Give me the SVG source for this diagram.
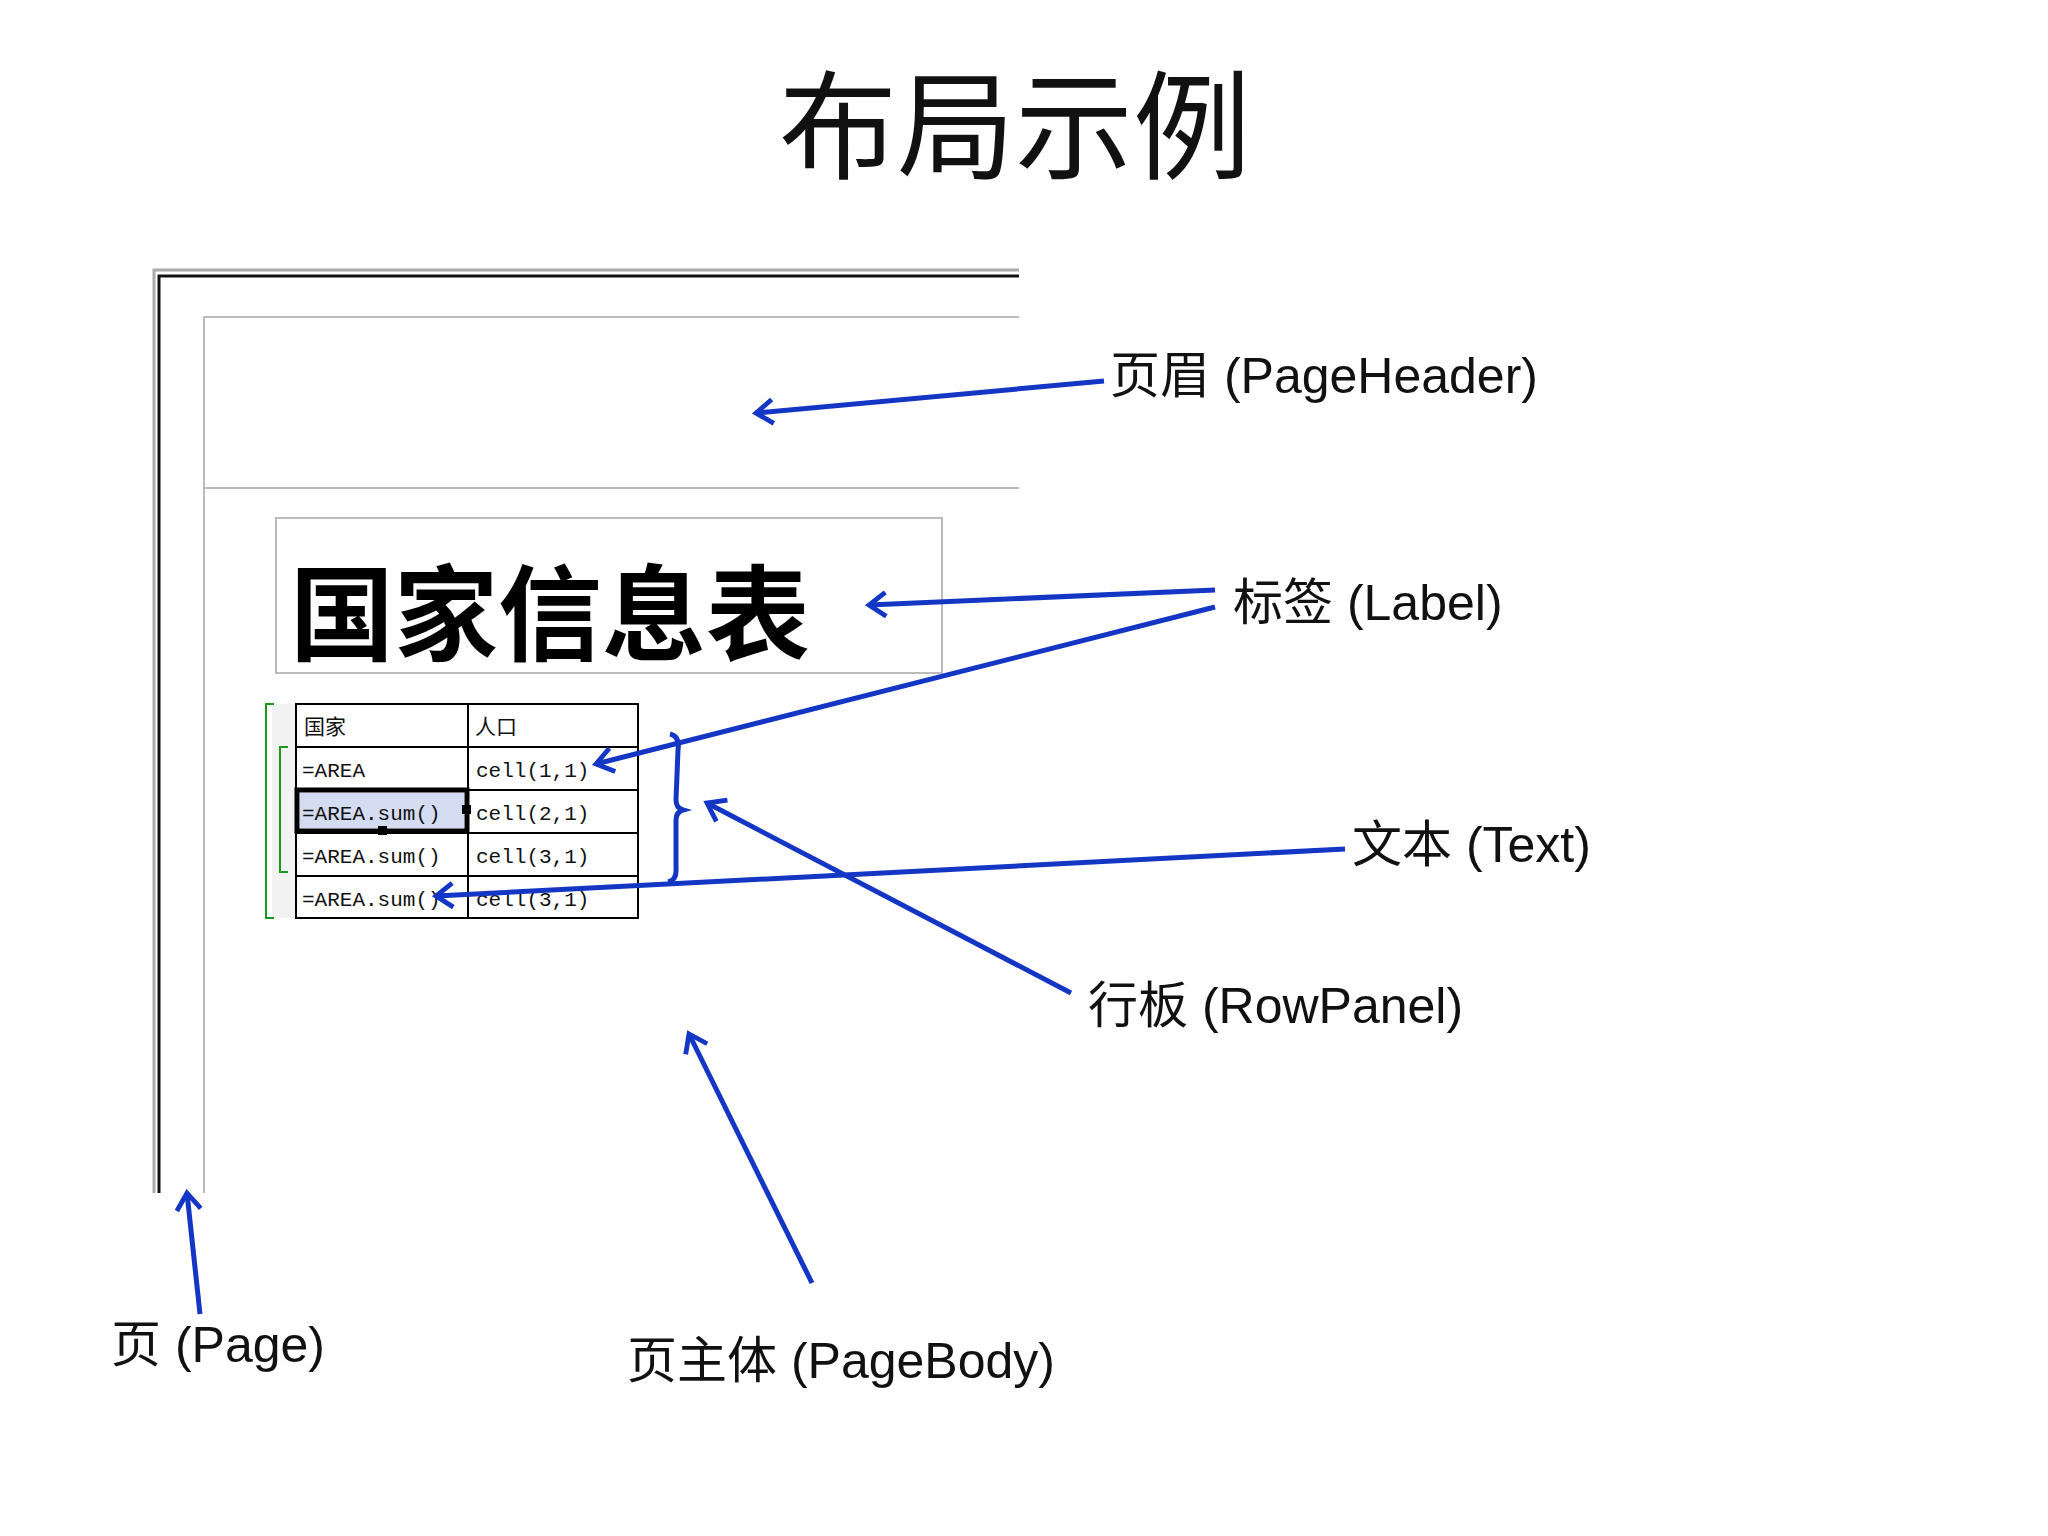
<svg xmlns="http://www.w3.org/2000/svg" width="2048" height="1536" viewBox="0 0 2048 1536">
<style>
.lbl{font-family:"Liberation Sans","Noto Sans CJK SC",sans-serif;font-size:50px;fill:#111}
.cell{font-family:"Liberation Mono","Noto Sans CJK SC",monospace;font-size:21px;fill:#111}
.arr{stroke:#1436c4;stroke-width:5;fill:none}
.tl{stroke:#000;stroke-width:2;fill:none}
</style>
<defs>
<marker id="ah" viewBox="0 0 20 20" refX="18" refY="10" markerWidth="24" markerHeight="24" orient="auto" markerUnits="userSpaceOnUse" style="overflow:visible">
<path d="M4,0 L18,10 L4,20" stroke="#1436c4" stroke-width="4" fill="none"/>
</marker>
</defs>
<rect width="2048" height="1536" fill="#fff"/>
<text x="1015" y="170" text-anchor="middle" font-family="Noto Sans CJK SC,sans-serif" font-size="118" fill="#111">布局示例</text>
<g id="page">
<path d="M154,1193 V270 H1019" stroke="#aaa" stroke-width="3" fill="none"/>
<path d="M159,1193 V276 H1019" stroke="#111" stroke-width="3" fill="none"/>
</g>
<g id="pageheader">
<path d="M204,1193 V317 H1019 M204,488 H1019" stroke="#bbb" stroke-width="2" fill="none"/>
</g>
<g id="label">
<rect x="276" y="518" width="666" height="155" fill="none" stroke="#bbb" stroke-width="2"/>
<text x="290" y="653" font-family="Noto Sans CJK SC,sans-serif" font-weight="bold" font-size="104" fill="#000">国家信息表</text>
</g>
<g id="table">
<rect x="272" y="704" width="24" height="214" fill="#f2f2f2"/>
<path d="M274,704 H266 V918 H274 M288,747 H280 V872 H288" stroke="#1a9a1a" stroke-width="2" fill="none"/>
<rect x="300" y="793" width="164" height="35" fill="#d4dcf2"/>
<rect x="296" y="704" width="342" height="214" class="tl"/>
<path class="tl" d="M468,704 V918 M296,747 H638 M296,790 H638 M296,833 H638 M296,876 H638"/>
<rect x="297" y="790" width="170" height="41" fill="none" stroke="#000" stroke-width="5"/>
<rect x="462" y="805" width="9" height="9" fill="#000"/>
<rect x="378" y="826" width="9" height="9" fill="#000"/>
<text class="cell" x="304" y="734">国家</text>
<text class="cell" x="475" y="734">人口</text>
<text class="cell" x="302" y="777">=AREA</text>
<text class="cell" x="302" y="820" fill="#666">=AREA.sum()</text>
<text class="cell" x="302" y="863">=AREA.sum()</text>
<text class="cell" x="302" y="906">=AREA.sum()</text>
<text class="cell" x="476" y="777">cell(1,1)</text>
<text class="cell" x="476" y="820">cell(2,1)</text>
<text class="cell" x="476" y="863">cell(3,1)</text>
<text class="cell" x="476" y="906">cell(3,1)</text>
</g>
<g id="rowpanel-brace">
<path d="M670,734 Q680,736 678,750 L676,800 Q676,808 683,810 Q676,812 676,820 L676,868 Q677,880 668,882" stroke="#1436c4" stroke-width="5" fill="none"/>
</g>
<g id="connectors">
<line class="arr" x1="1104" y1="381" x2="756" y2="413" marker-end="url(#ah)"/>
<line class="arr" x1="1215" y1="590" x2="869" y2="605" marker-end="url(#ah)"/>
<line class="arr" x1="1215" y1="607" x2="596" y2="764" marker-end="url(#ah)"/>
<line class="arr" x1="1345" y1="849" x2="436" y2="896" marker-end="url(#ah)"/>
<line class="arr" x1="1071" y1="993" x2="707" y2="803" marker-end="url(#ah)"/>
<line class="arr" x1="812" y1="1283" x2="689" y2="1034" marker-end="url(#ah)"/>
<line class="arr" x1="200" y1="1314" x2="187" y2="1193" marker-end="url(#ah)"/>
</g>
<g id="labels">
<text class="lbl" x="1110" y="393">页眉 (PageHeader)</text>
<text class="lbl" x="1233" y="620">标签 (Label)</text>
<text class="lbl" x="1352" y="862">文本 (Text)</text>
<text class="lbl" x="1088" y="1023">行板 (RowPanel)</text>
<text class="lbl" x="627" y="1378">页主体 (PageBody)</text>
<text class="lbl" x="111" y="1362">页 (Page)</text>
</g>
</svg>
